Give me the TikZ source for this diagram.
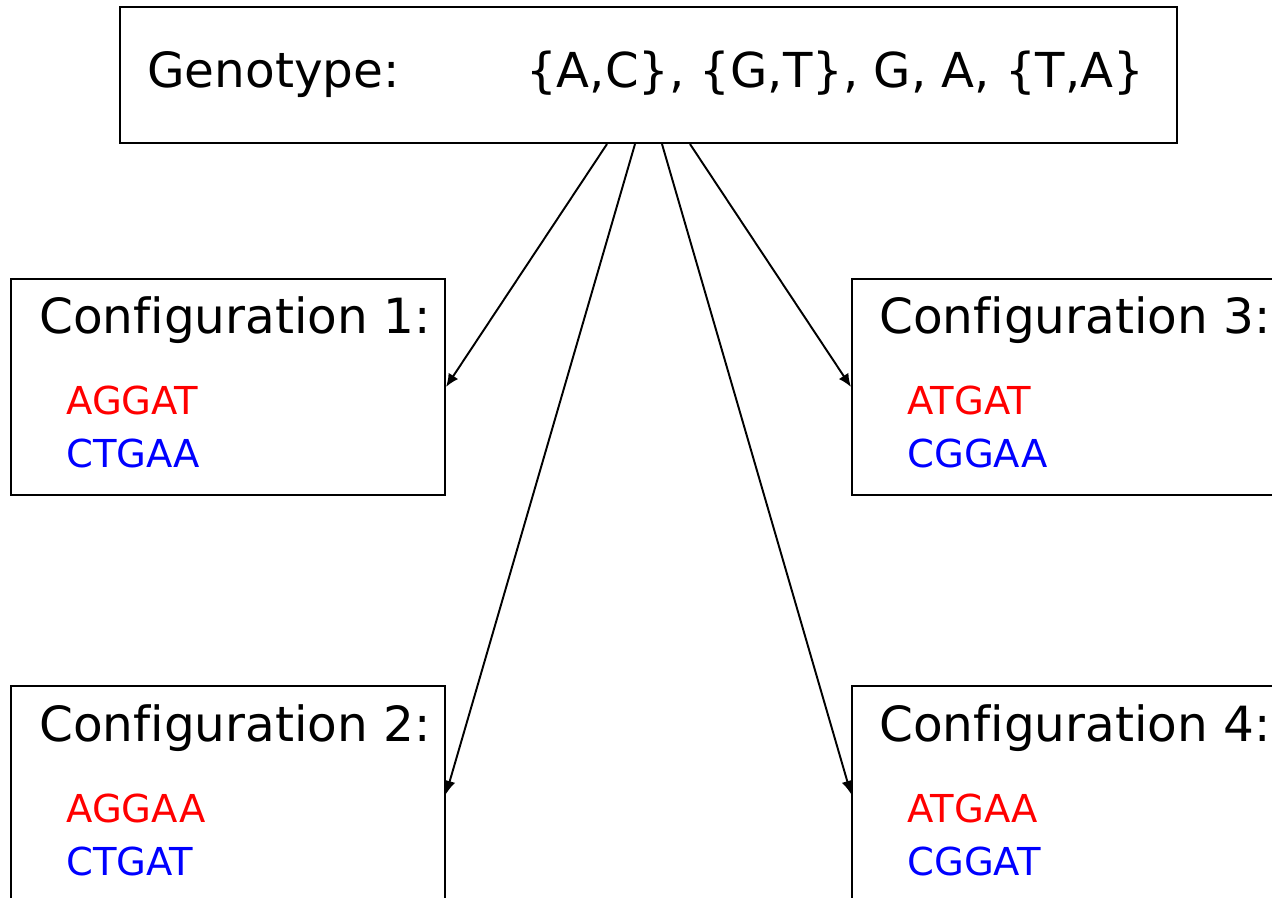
\documentclass[tikz,border=0pt]{standalone}
\usepackage{fontspec}
\setmainfont{DejaVu Sans}[Ligatures={NoCommon}]
\usetikzlibrary{positioning, arrows.meta}
\definecolor{hapRed}{HTML}{FF0000}
\definecolor{hapBlue}{HTML}{0000FF}

\begin{document}
\begin{tikzpicture}[x=0.02cm, y=-0.02cm, >={Latex[length=7.5pt, width=6.5pt]},
        gbox/.style={draw, line width=1.2pt, minimum width=21.14cm, minimum height=2.72cm, inner sep=0pt},
        cbox/.style={draw, line width=1.2pt, minimum width=8.68cm, minimum height=4.32cm, inner sep=0pt},
        big/.style={anchor=base west, inner sep=0pt, font=\fontsize{27.6}{33}\selectfont},
        seq/.style={anchor=base west, inner sep=0pt, font=\fontsize{21.9}{26}\selectfont},
        link/.style={->, line width=1.1pt}]
      \useasboundingbox (0,0) rectangle (1272,898);
      \clip (0,0) rectangle (1272,898);
      % genotype box
      \node[gbox] (geno) at (648.5,75) {};
      \node[big] (gl) at (147,88) {Genotype:};
      \node[big, font=\fontsize{27.4}{33}\selectfont] (gs) at (526,88) {\{A,C\}, \{G,T\}, G, A, \{T,A\}};
      % the four configurations
      \node[cbox] (c1) at (228,387) {};
      \node[cbox] (c2) at (228,794) {};
      \node[cbox] (c3) at (1069,387) {};
      \node[cbox] (c4) at (1069,794) {};
      \node[big] (c1t) at (39,334) {Configuration 1:};
      \node[seq, text=hapRed] (c1a) at (66,415) {AGGAT};
      \node[seq, text=hapBlue] (c1b) at (66,468) {CTGAA};
      \node[big] (c2t) at (39,741) {Configuration 2:};
      \node[seq, text=hapRed] (c2a) at (66,822) {AGGAA};
      \node[seq, text=hapBlue] (c2b) at (66,875) {CTGAT};
      \node[big] (c3t) at (879,334) {Configuration 3:};
      \node[seq, text=hapRed] (c3a) at (907,415) {ATGAT};
      \node[seq, text=hapBlue] (c3b) at (907,468) {CGGAA};
      \node[big] (c4t) at (879,741) {Configuration 4:};
      \node[seq, text=hapRed] (c4a) at (907,822) {ATGAA};
      \node[seq, text=hapBlue] (c4b) at (907,875) {CGGAT};
      \draw[link] ([xshift=-0.83cm]geno.south) -- (c1.east);
      \draw[link] ([xshift=-0.27cm]geno.south) -- (c2.east);
      \draw[link] ([xshift=0.27cm]geno.south) -- (c4.west);
      \draw[link] ([xshift=0.83cm]geno.south) -- (c3.west);
    \end{tikzpicture}
\end{document}
